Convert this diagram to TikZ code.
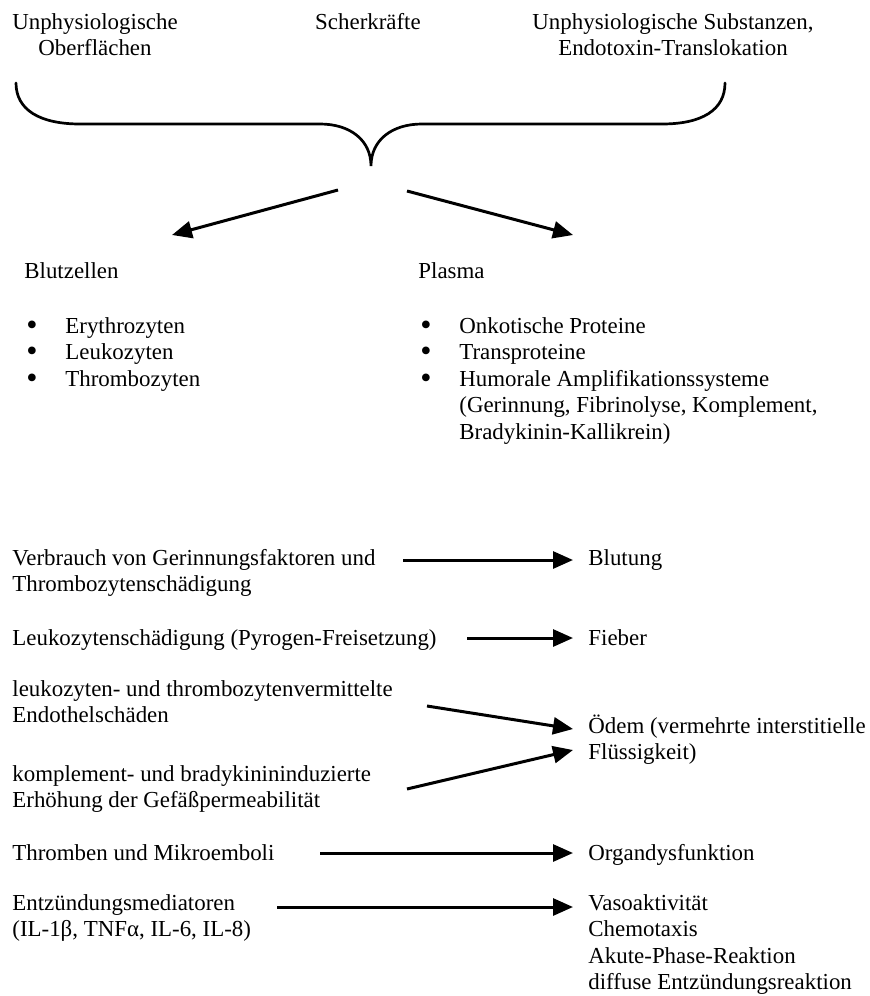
\documentclass[tikz,border=0pt]{standalone}
\usepackage{fontspec}
\setmainfont{Liberation Serif}
\usetikzlibrary{arrows.meta}
\newcommand{\bodyfont}{\fontsize{11.45pt}{13.25pt}\selectfont}
\newcommand{\bul}{\smash{\raisebox{-0.1em}{\scalebox{1.4}{•}}}}
\newcommand{\bulletlist}[1]{\begin{tabular}[t]{@{}p{19.5pt}@{}l@{}}#1\end{tabular}}
\tikzset{
    txt/.style={font=\bodyfont, inner sep=0pt, anchor=base west, align=left},
    ctxt/.style={font=\bodyfont, inner sep=0pt, anchor=base, align=center},
    arr/.style={line width=1.5pt, -{Triangle[length=10pt, width=8.5pt]}},
    brace/.style={line width=1.35pt, line cap=round},
}

\begin{document}
\begin{tikzpicture}[x=0.5pt, y=-0.5pt]
    \useasboundingbox (0,0) rectangle (869,996);

    % Causes (multi-line nodes sit on their last baseline)
    \node[ctxt] (surface) at (95,55.5) {Unphysiologische\\Oberflächen};
    \node[ctxt] (shear) at (368,29) {Scherkräfte};
    \node[ctxt] (subst) at (673,55.5) {Unphysiologische Substanzen,\\Endotoxin-Translokation};

    % Brace
    \draw[brace] (16,83) .. controls (16,110) and (40,124) .. (80,124) -- (320,124)
        .. controls (350,124) and (371,140) .. (371,166)
        .. controls (371,140) and (392,124) .. (422,124) -- (662,124)
        .. controls (702,124) and (725,110) .. (725,83);
    \coordinate (splitL) at (338,190);
    \coordinate (splitR) at (407,191);
    \coordinate (tipL) at (172,235);
    \coordinate (tipR) at (573,235);
    \draw[arr] (splitL) -- (tipL);
    \draw[arr] (splitR) -- (tipR);

    % Affected compartments
    \node[txt] (cells) at (24,278) {Blutzellen};
    \node[txt] (plasma) at (418,278) {Plasma};
    \node[txt] (cellslist) at (26,333) {\bulletlist{%
        \bul&Erythrozyten\\
        \bul&Leukozyten\\
        \bul&Thrombozyten}};
    \node[txt] (plasmalist) at (420,333) {\bulletlist{%
        \bul&Onkotische Proteine\\
        \bul&Transproteine\\
        \bul&Humorale Amplifikationssysteme\\
            &(Gerinnung, Fibrinolyse, Komplement,\\
            &Bradykinin-Kallikrein)}};

    % Mechanisms
    \node[txt] (consum) at (12,591.5) {Verbrauch von Gerinnungsfaktoren und\\Thrombozytenschädigung};
    \node[txt] (pyrogen) at (12,645) {Leukozytenschädigung (Pyrogen-Freisetzung)};
    \node[txt] (endo) at (12,722.5) {leukozyten- und thrombozytenvermittelte\\Endothelschäden};
    \node[txt] (perm) at (12,807.5) {komplement- und bradykinininduzierte\\Erhöhung der Gefäßpermeabilität};
    \node[txt] (emboli) at (12,860) {Thromben und Mikroemboli};
    \node[txt] (mediat) at (12,936.5) {Entzündungsmediatoren\\(IL-1β, TNFα, IL-6, IL-8)};

    % Consequences
    \node[txt] (bleed) at (588,565) {Blutung};
    \node[txt] (fever) at (588,645) {Fieber};
    \node[txt] (edema) at (588,759.5) {Ödem (vermehrte interstitielle\\Flüssigkeit)};
    \node[txt] (organ) at (588,860) {Organdysfunktion};
    \node[txt] (vaso) at (588,989.5) {Vasoaktivität\\Chemotaxis\\Akute-Phase-Reaktion\\diffuse Entzündungsreaktion};

    % Arrows
    \coordinate (a1) at (403,560);  \coordinate (b1) at (573,560);
    \coordinate (a2) at (467,638);  \coordinate (b2) at (573,638);
    \coordinate (a3) at (427,706);  \coordinate (b3) at (573,729);
    \coordinate (a4) at (407,789);  \coordinate (b4) at (573,750);
    \coordinate (a5) at (320,853);  \coordinate (b5) at (573,853);
    \coordinate (a6) at (277,907);  \coordinate (b6) at (573,907);
    \foreach \i in {1,...,6}
        \draw[arr] (a\i) -- (b\i);
\end{tikzpicture}
\end{document}
